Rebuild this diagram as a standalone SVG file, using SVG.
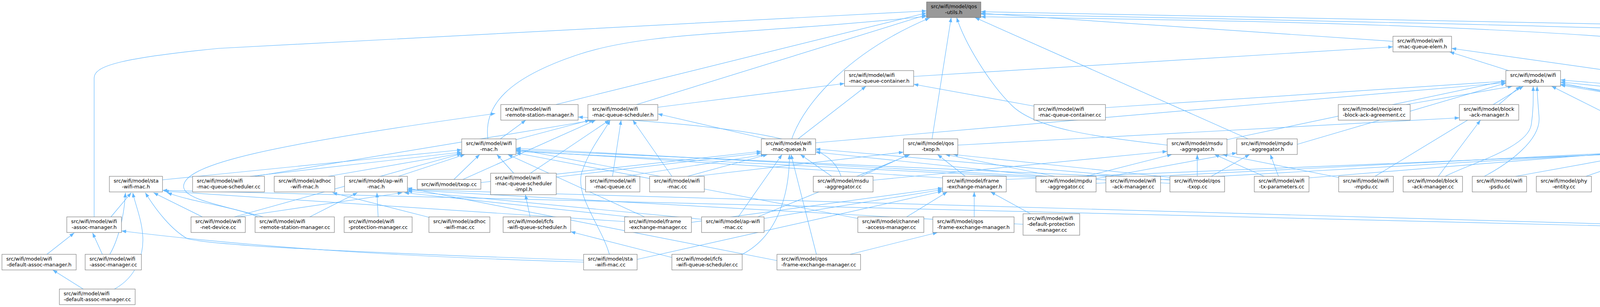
<svg xmlns="http://www.w3.org/2000/svg" width="5831" height="787" viewBox="0 0 5831 787">
<defs>
<marker id="a" viewBox="0 0 12 9" refX="12" refY="4.5" markerWidth="12" markerHeight="9" markerUnits="userSpaceOnUse" orient="auto"><path d="M0,0 L12,4.5 L0,9 z" fill="#63b8ff"/></marker>
<style>
.e path{fill:none;stroke:#63b8ff;stroke-width:1.2;marker-end:url(#a)}
.n rect{fill:#fff;stroke:#666;stroke-width:1}
.root rect{fill:#999}
.n text{font-family:"DejaVu Sans","Liberation Sans",sans-serif;font-size:13px;fill:#000}
.n text.c{text-anchor:middle}
</style>
</defs>
<rect width="5831" height="787" fill="#fff"/>
<g id="edges" class="e">
<path d="M5700,93 L2511,30"/>
<path d="M3566,106 L2511,34"/>
<path d="M2339,196 L3566,120"/>
<path d="M3862,181 L3711,133"/>
<path d="M1423,268 L2372,33"/>
<path d="M1630,268 L2372,38"/>
<path d="M1684,275 L2162,214"/>
<path d="M2647,272 L2339,216"/>
<path d="M2830,276 L3855,208"/>
<path d="M3600,268 L3872,221"/>
<path d="M3837,268 L3892,221"/>
<path d="M4366,270 L3995,216"/>
<path d="M4540,268 L3995,210"/>
<path d="M4745,270 L3716,124"/>
<path d="M4750,268 L3995,205"/>
<path d="M1281,356 L1346,308"/>
<path d="M1249,356 C1238,270 1300,200 1480,140 S1900,90 2372,42"/>
<path d="M1321,358 L1510,308"/>
<path d="M2043,356 L2217,221"/>
<path d="M2027,356 C2060,260 2180,130 2380,46"/>
<path d="M2088,366 L3855,212"/>
<path d="M2386,356 L2435,45"/>
<path d="M2452,372 L3736,302"/>
<path d="M2988,372 C2800,350 2650,330 2590,270 S2470,110 2449,45"/>
<path d="M3141,358 L3855,207"/>
<path d="M3195,356 L2496,45"/>
<path d="M3321,370 L3855,213"/>
<path d="M4241,356 L3972,221"/>
<path d="M416,461 L1182,384"/>
<path d="M653,452 L1520,308"/>
<path d="M640,452 L1182,390"/>
<path d="M840,452 L1182,393"/>
<path d="M1020,452 L1190,396"/>
<path d="M1162,460 L1228,396"/>
<path d="M1185,460 L1525,308"/>
<path d="M1231,468 L1949,388"/>
<path d="M1315,444 L1272,396"/>
<path d="M1358,444 L1560,308"/>
<path d="M1424,454 L1949,392"/>
<path d="M1600,452 L1960,396"/>
<path d="M1568,452 L1590,308"/>
<path d="M1690,452 L1321,382"/>
<path d="M1780,452 L2313,390"/>
<path d="M1760,452 L1965,396"/>
<path d="M1720,452 L1620,308"/>
<path d="M2235,462 L2988,388"/>
<path d="M2129,452 L2049,396"/>
<path d="M2204,452 L2327,396"/>
<path d="M2153,452 C2130,380 2040,330 1480,300"/>
<path d="M2471,452 L2400,396"/>
<path d="M2413,456 L1321,386"/>
<path d="M2576,460 L4211,392"/>
<path d="M2806,458 L3166,392"/>
<path d="M2780,452 L3000,396"/>
<path d="M2700,452 L2420,396"/>
<path d="M2680,452 L2088,390"/>
<path d="M2806,470 L4211,390"/>
<path d="M2652,455 L1321,388"/>
<path d="M2953,452 L4211,388"/>
<path d="M2840,452 L1321,384"/>
<path d="M3000,455 L2440,396"/>
<path d="M3065,452 L3065,396"/>
<path d="M3101,452 L3199,396"/>
<path d="M2995,462 L2088,382"/>
<path d="M2995,470 L1321,380"/>
<path d="M3273,452 L3252,396"/>
<path d="M3236,452 L3109,396"/>
<path d="M3351,456 L4211,386"/>
<path d="M3520,452 L3900,221"/>
<path d="M3427,455 L3130,396"/>
<path d="M3682,452 L3790,308"/>
<path d="M3700,452 C3760,420 3910,380 3920,320 C3926,280 3925,250 3925,221"/>
<path d="M3880,452 L4211,392"/>
<path d="M3800,452 C3860,420 3945,360 3940,300 C3937,260 3935,240 3935,221"/>
<path d="M4060,452 L4222,396"/>
<path d="M4210,452 L4260,396"/>
<path d="M4356,452 L4305,396"/>
<path d="M4520,452 L4320,396"/>
<path d="M4700,452 L4335,396"/>
<path d="M4860,452 L4345,395"/>
<path d="M5010,452 L4350,393"/>
<path d="M5180,452 L4351,391"/>
<path d="M5380,452 L4351,389"/>
<path d="M5385,452 L3995,218"/>
<path d="M284,556 L336,494"/>
<path d="M241,556 L241,200 C241,170 300,150 560,124 L2372,28"/>
<path d="M518,556 L393,494"/>
<path d="M609,556 L1030,494"/>
<path d="M600,556 L1182,394"/>
<path d="M674,556 C560,525 470,510 470,478 C470,420 700,370 1268,291"/>
<path d="M660,556 C600,530 500,520 428,494"/>
<path d="M793,556 L915,494"/>
<path d="M968,556 L965,494"/>
<path d="M1098,557 L851,494"/>
<path d="M1357,556 L1345,499"/>
<path d="M1770,570 L2413,482"/>
<path d="M1599,568 L420,490"/>
<path d="M1610,556 L1035,494"/>
<path d="M1650,556 L1300,396"/>
<path d="M1796,562 L1043,490"/>
<path d="M1890,556 L2002,396"/>
<path d="M1956,560 L2413,486"/>
<path d="M1940,556 L2330,396"/>
<path d="M2321,556 L2425,492"/>
<path d="M2196,560 L1321,392"/>
<path d="M2494,556 L2494,492"/>
<path d="M2638,548 L2536,492"/>
<path d="M2619,575 L1043,487"/>
<path d="M4148,575 L1043,486"/>
<path d="M4148,580 L416,488"/>
<path d="M4330,572 C5000,560 5560,545 5640,480 L5648,200 C5600,110 4800,80 2511,36"/>
<path d="M4330,578 C4900,565 5480,545 5530,500 C5570,460 5500,420 5300,405 C4900,395 4500,394 4351,392"/>
<path d="M120,652 L190,597"/>
<path d="M262,652 L237,597"/>
<path d="M281,652 C300,620 318,560 321,494"/>
<path d="M1494,667 C1000,650 560,632 480,612 C440,590 400,540 372,494"/>
<path d="M1494,672 C1100,660 700,640 311,592"/>
<path d="M1560,652 C1540,580 1470,500 1490,440 C1510,380 1545,340 1562,308"/>
<path d="M1631,665 L2413,490"/>
<path d="M1720,660 L1461,594"/>
<path d="M1900,652 C2000,600 2021,480 2021,396"/>
<path d="M2176,652 L2400,596"/>
<path d="M2090,652 L2025,396"/>
<path d="M1989,668 L1043,482"/>
<path d="M213,741 L135,692"/>
<path d="M293,741 C350,710 370,650 365,600 C362,560 345,520 340,494"/>
<path d="M3995,212 C4400,300 4880,360 4922,290 C4950,230 4600,150 4300,110 C3800,60 3000,50 2511,43"/>
<path d="M1960,356 L1684,292"/>
</g>
<g id="n-qos-utils-h" class="n root"><rect x="2372" y="5" width="139" height="40"/><text x="2383" y="21">src/wifi/model/qos</text><text class="c" x="2441.5" y="36">-utils.h</text></g>
<g id="n-qos-utils-cc" class="n"><rect x="5687" y="93" width="139" height="40"/><text x="5698" y="109">src/wifi/model/qos</text><text class="c" x="5756.5" y="124">-utils.cc</text></g>
<g id="n-wifi-mac-queue-elem-h" class="n"><rect x="3566" y="93" width="150" height="40"/><text x="3577" y="109">src/wifi/model/wifi</text><text class="c" x="3641" y="124">-mac-queue-elem.h</text></g>
<g id="n-wifi-mac-queue-container-h" class="n"><rect x="2162" y="181" width="177" height="40"/><text x="2173" y="197">src/wifi/model/wifi</text><text class="c" x="2250.5" y="212">-mac-queue-container.h</text></g>
<g id="n-wifi-mpdu-h" class="n"><rect x="3855" y="181" width="140" height="40"/><text x="3866" y="197">src/wifi/model/wifi</text><text class="c" x="3925" y="212">-mpdu.h</text></g>
<g id="n-wifi-remote-station-manager-h" class="n"><rect x="1282" y="268" width="198" height="40"/><text x="1293" y="284">src/wifi/model/wifi</text><text class="c" x="1381" y="299">-remote-station-manager.h</text></g>
<g id="n-wifi-mac-queue-scheduler-h" class="n"><rect x="1505" y="268" width="179" height="40"/><text x="1516" y="284">src/wifi/model/wifi</text><text class="c" x="1594.5" y="299">-mac-queue-scheduler.h</text></g>
<g id="n-wifi-mac-queue-container-cc" class="n"><rect x="2647" y="268" width="183" height="40"/><text x="2658" y="284">src/wifi/model/wifi</text><text class="c" x="2738.5" y="299">-mac-queue-container.cc</text></g>
<g id="n-recipient-block-ack-agreement-cc" class="n"><rect x="3426" y="268" width="184" height="40"/><text x="3437" y="284">src/wifi/model/recipient</text><text class="c" x="3518" y="299">-block-ack-agreement.cc</text></g>
<g id="n-block-ack-manager-h" class="n"><rect x="3736" y="268" width="152" height="40"/><text x="3747" y="284">src/wifi/model/block</text><text class="c" x="3812" y="299">-ack-manager.h</text></g>
<g id="n-mac-rx-middle-cc" class="n"><rect x="4366" y="268" width="145" height="40"/><text x="4377" y="284">src/wifi/model/mac</text><text class="c" x="4438.5" y="299">-rx-middle.cc</text></g>
<g id="n-originator-block-ack-agreement-cc" class="n"><rect x="4536" y="268" width="184" height="40"/><text x="4547" y="284">src/wifi/model/originator</text><text class="c" x="4628" y="299">-block-ack-agreement.cc</text></g>
<g id="n-wifi-mac-queue-elem-cc" class="n"><rect x="4745" y="268" width="155" height="40"/><text x="4756" y="284">src/wifi/model/wifi</text><text class="c" x="4822.5" y="299">-mac-queue-elem.cc</text></g>
<g id="n-wifi-mac-h" class="n"><rect x="1182" y="356" width="139" height="40"/><text x="1193" y="372">src/wifi/model/wifi</text><text class="c" x="1251.5" y="387">-mac.h</text></g>
<g id="n-wifi-mac-queue-h" class="n"><rect x="1949" y="356" width="139" height="40"/><text x="1960" y="372">src/wifi/model/wifi</text><text class="c" x="2018.5" y="387">-mac-queue.h</text></g>
<g id="n-qos-txop-h" class="n"><rect x="2313" y="356" width="139" height="40"/><text x="2324" y="372">src/wifi/model/qos</text><text class="c" x="2382.5" y="387">-txop.h</text></g>
<g id="n-msdu-aggregator-h" class="n"><rect x="2988" y="356" width="153" height="40"/><text x="2999" y="372">src/wifi/model/msdu</text><text class="c" x="3064.5" y="387">-aggregator.h</text></g>
<g id="n-mpdu-aggregator-h" class="n"><rect x="3166" y="356" width="155" height="40"/><text x="3177" y="372">src/wifi/model/mpdu</text><text class="c" x="3243.5" y="387">-aggregator.h</text></g>
<g id="n-wifi-psdu-h" class="n"><rect x="4211" y="356" width="140" height="40"/><text x="4222" y="372">src/wifi/model/wifi</text><text class="c" x="4281" y="387">-psdu.h</text></g>
<g id="n-sta-wifi-mac-h" class="n"><rect x="280" y="452" width="136" height="40"/><text x="291" y="468">src/wifi/model/sta</text><text class="c" x="348" y="483">-wifi-mac.h</text></g>
<g id="n-wifi-mac-queue-scheduler-cc" class="n"><rect x="493" y="452" width="184" height="40"/><text x="504" y="468">src/wifi/model/wifi</text><text class="c" x="585" y="483">-mac-queue-scheduler.cc</text></g>
<g id="n-adhoc-wifi-mac-h" class="n"><rect x="702" y="452" width="155" height="40"/><text x="713" y="468">src/wifi/model/adhoc</text><text class="c" x="779.5" y="483">-wifi-mac.h</text></g>
<g id="n-ap-wifi-mac-h" class="n"><rect x="882" y="452" width="161" height="40"/><text x="893" y="468">src/wifi/model/ap-wifi</text><text class="c" x="962.5" y="483">-mac.h</text></g>
<g id="n-txop-cc" class="n"><rect x="1068" y="460" width="163" height="25"/><text class="c" x="1149.5" y="477">src/wifi/model/txop.cc</text></g>
<g id="n-wifi-mac-queue-scheduler-impl-h" class="n"><rect x="1256" y="444" width="168" height="55"/><text x="1267" y="460">src/wifi/model/wifi</text><text x="1267" y="475">-mac-queue-scheduler</text><text class="c" x="1340" y="490">-impl.h</text></g>
<g id="n-wifi-mac-queue-cc" class="n"><rect x="1499" y="452" width="139" height="40"/><text x="1510" y="468">src/wifi/model/wifi</text><text class="c" x="1568.5" y="483">-mac-queue.cc</text></g>
<g id="n-wifi-mac-cc" class="n"><rect x="1663" y="452" width="140" height="40"/><text x="1674" y="468">src/wifi/model/wifi</text><text class="c" x="1733" y="483">-mac.cc</text></g>
<g id="n-msdu-aggregator-cc" class="n"><rect x="2082" y="452" width="153" height="40"/><text x="2093" y="468">src/wifi/model/msdu</text><text class="c" x="2158.5" y="483">-aggregator.cc</text></g>
<g id="n-frame-exchange-manager-h" class="n"><rect x="2413" y="452" width="163" height="40"/><text x="2424" y="468">src/wifi/model/frame</text><text class="c" x="2494.5" y="483">-exchange-manager.h</text></g>
<g id="n-mpdu-aggregator-cc" class="n"><rect x="2652" y="452" width="154" height="40"/><text x="2663" y="468">src/wifi/model/mpdu</text><text class="c" x="2729" y="483">-aggregator.cc</text></g>
<g id="n-wifi-ack-manager-cc" class="n"><rect x="2831" y="452" width="140" height="40"/><text x="2842" y="468">src/wifi/model/wifi</text><text class="c" x="2901" y="483">-ack-manager.cc</text></g>
<g id="n-qos-txop-cc" class="n"><rect x="2995" y="452" width="140" height="40"/><text x="3006" y="468">src/wifi/model/qos</text><text class="c" x="3065" y="483">-txop.cc</text></g>
<g id="n-wifi-tx-parameters-cc" class="n"><rect x="3211" y="452" width="140" height="40"/><text x="3222" y="468">src/wifi/model/wifi</text><text class="c" x="3281" y="483">-tx-parameters.cc</text></g>
<g id="n-wifi-mpdu-cc" class="n"><rect x="3427" y="452" width="140" height="40"/><text x="3438" y="468">src/wifi/model/wifi</text><text class="c" x="3497" y="483">-mpdu.cc</text></g>
<g id="n-block-ack-manager-cc" class="n"><rect x="3592" y="452" width="152" height="40"/><text x="3603" y="468">src/wifi/model/block</text><text class="c" x="3668" y="483">-ack-manager.cc</text></g>
<g id="n-wifi-psdu-cc" class="n"><rect x="3769" y="452" width="139" height="40"/><text x="3780" y="468">src/wifi/model/wifi</text><text class="c" x="3838.5" y="483">-psdu.cc</text></g>
<g id="n-phy-entity-cc" class="n"><rect x="3933" y="452" width="141" height="40"/><text x="3944" y="468">src/wifi/model/phy</text><text class="c" x="4003.5" y="483">-entity.cc</text></g>
<g id="n-spectrum-wifi-phy-cc" class="n"><rect x="4099" y="452" width="178" height="40"/><text x="4110" y="468">src/wifi/model/spectrum</text><text class="c" x="4188" y="483">-wifi-phy.cc</text></g>
<g id="n-wifi-bandwidth-filter-cc" class="n"><rect x="4301" y="452" width="147" height="40"/><text x="4312" y="468">src/wifi/model/wifi</text><text class="c" x="4374.5" y="483">-bandwidth-filter.cc</text></g>
<g id="n-wifi-phy-state-helper-cc" class="n"><rect x="4472" y="452" width="152" height="40"/><text x="4483" y="468">src/wifi/model/wifi</text><text class="c" x="4548" y="483">-phy-state-helper.cc</text></g>
<g id="n-wifi-phy-cc" class="n"><rect x="4649" y="452" width="139" height="40"/><text x="4660" y="468">src/wifi/model/wifi</text><text class="c" x="4718.5" y="483">-phy.cc</text></g>
<g id="n-wifi-ppdu-cc" class="n"><rect x="4813" y="452" width="139" height="40"/><text x="4824" y="468">src/wifi/model/wifi</text><text class="c" x="4882.5" y="483">-ppdu.cc</text></g>
<g id="n-yans-wifi-channel-cc" class="n"><rect x="4977" y="452" width="147" height="40"/><text x="4988" y="468">src/wifi/model/yans</text><text class="c" x="5050.5" y="483">-wifi-channel.cc</text></g>
<g id="n-interference-helper-cc" class="n"><rect x="5149" y="452" width="195" height="40"/><text x="5160" y="468">src/wifi/model/interference</text><text class="c" x="5246.5" y="483">-helper.cc</text></g>
<g id="n-wifi-tx-timer-cc" class="n"><rect x="5369" y="452" width="139" height="40"/><text x="5380" y="468">src/wifi/model/wifi</text><text class="c" x="5438.5" y="483">-tx-timer.cc</text></g>
<g id="n-wifi-assoc-manager-h" class="n"><rect x="171" y="556" width="140" height="40"/><text x="182" y="572">src/wifi/model/wifi</text><text class="c" x="241" y="587">-assoc-manager.h</text></g>
<g id="n-wifi-net-device-cc" class="n"><rect x="489" y="556" width="139" height="40"/><text x="500" y="572">src/wifi/model/wifi</text><text class="c" x="558.5" y="587">-net-device.cc</text></g>
<g id="n-wifi-remote-station-manager-cc" class="n"><rect x="653" y="556" width="203" height="40"/><text x="664" y="572">src/wifi/model/wifi</text><text class="c" x="754.5" y="587">-remote-station-manager.cc</text></g>
<g id="n-wifi-protection-manager-cc" class="n"><rect x="881" y="556" width="174" height="40"/><text x="892" y="572">src/wifi/model/wifi</text><text class="c" x="968" y="587">-protection-manager.cc</text></g>
<g id="n-adhoc-wifi-mac-cc" class="n"><rect x="1098" y="556" width="156" height="40"/><text x="1109" y="572">src/wifi/model/adhoc</text><text class="c" x="1176" y="587">-wifi-mac.cc</text></g>
<g id="n-fcfs-wifi-queue-scheduler-h" class="n"><rect x="1288" y="556" width="173" height="40"/><text x="1299" y="572">src/wifi/model/fcfs</text><text class="c" x="1374.5" y="587">-wifi-queue-scheduler.h</text></g>
<g id="n-frame-exchange-manager-cc" class="n"><rect x="1599" y="556" width="171" height="40"/><text x="1610" y="572">src/wifi/model/frame</text><text class="c" x="1684.5" y="587">-exchange-manager.cc</text></g>
<g id="n-ap-wifi-mac-cc" class="n"><rect x="1796" y="556" width="160" height="40"/><text x="1807" y="572">src/wifi/model/ap-wifi</text><text class="c" x="1876" y="587">-mac.cc</text></g>
<g id="n-channel-access-manager-cc" class="n"><rect x="2196" y="556" width="169" height="40"/><text x="2207" y="572">src/wifi/model/channel</text><text class="c" x="2280.5" y="587">-access-manager.cc</text></g>
<g id="n-qos-frame-exchange-manager-h" class="n"><rect x="2388" y="556" width="208" height="40"/><text x="2399" y="572">src/wifi/model/qos</text><text class="c" x="2492" y="587">-frame-exchange-manager.h</text></g>
<g id="n-wifi-default-protection-manager-cc" class="n"><rect x="2619" y="548" width="145" height="55"/><text x="2630" y="564">src/wifi/model/wifi</text><text x="2630" y="579">-default-protection</text><text class="c" x="2691.5" y="594">-manager.cc</text></g>
<g id="n-wifi-default-ack-manager-cc" class="n"><rect x="4148" y="556" width="182" height="40"/><text x="4159" y="572">src/wifi/model/wifi</text><text class="c" x="4239" y="587">-default-ack-manager.cc</text></g>
<g id="n-wifi-default-assoc-manager-h" class="n"><rect x="5" y="652" width="190" height="40"/><text x="16" y="668">src/wifi/model/wifi</text><text class="c" x="100" y="683">-default-assoc-manager.h</text></g>
<g id="n-wifi-assoc-manager-cc" class="n"><rect x="218" y="652" width="144" height="40"/><text x="229" y="668">src/wifi/model/wifi</text><text class="c" x="290" y="683">-assoc-manager.cc</text></g>
<g id="n-sta-wifi-mac-cc" class="n"><rect x="1494" y="652" width="137" height="40"/><text x="1505" y="668">src/wifi/model/sta</text><text class="c" x="1562.5" y="683">-wifi-mac.cc</text></g>
<g id="n-fcfs-wifi-queue-scheduler-cc" class="n"><rect x="1720" y="652" width="180" height="40"/><text x="1731" y="668">src/wifi/model/fcfs</text><text class="c" x="1810" y="683">-wifi-queue-scheduler.cc</text></g>
<g id="n-qos-frame-exchange-manager-cc" class="n"><rect x="1989" y="652" width="214" height="40"/><text x="2000" y="668">src/wifi/model/qos</text><text class="c" x="2096" y="683">-frame-exchange-manager.cc</text></g>
<g id="n-wifi-default-assoc-manager-cc" class="n"><rect x="152" y="741" width="194" height="40"/><text x="163" y="757">src/wifi/model/wifi</text><text class="c" x="249" y="772">-default-assoc-manager.cc</text></g>
</svg>
